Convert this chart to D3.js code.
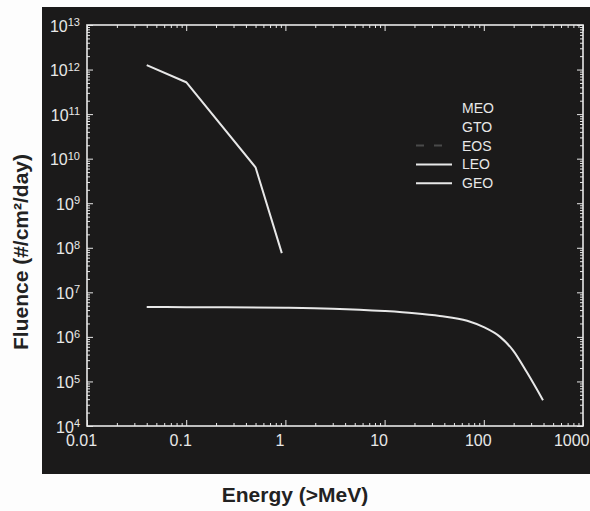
<!DOCTYPE html>
<html>
<head>
<meta charset="utf-8">
<script src="https://cdn.jsdelivr.net/npm/d3@7"></script>
<style>
  body { margin: 0; background: #fdfdfd; }
  svg { display: block; font-family: "Liberation Sans", Arial, sans-serif; }
</style>
</head>
<body>
<div class="plots"></div>
<script>
// energies (MeV) and fluence (#/cm2/day)
var leoEnergy  = [0.04, 0.1, 1, 3, 10, 20, 36, 68, 100, 146, 197, 272, 395];
var leoFluence = [4.7e6, 4.65e6, 4.5e6, 4.3e6, 3.8e6, 3.4e6, 2.95e6, 2.3e6, 1.65e6, 1.0e6, 5.0e5, 1.6e5, 3.8e4];
var geoEnergy  = [0.04, 0.1, 0.5, 0.92];
var geoFluence = [1.26e12, 5.2e11, 6.4e9, 7.6e7];

var legendNames = ["MEO", "GTO", "EOS", "LEO", "GEO"];
var xTicks = [0.01, 0.1, 1, 10, 100, 1000];
var xTickLabels = ["0.01", "0.1", "1", "10", "100", "1000"];
var yExponents = [4, 5, 6, 7, 8, 9, 10, 11, 12, 13];

var width = 590, height = 511;
var margin = {top: 25, right: 7, bottom: 85, left: 87};
var fg = "#e8e8e8";

var svg = d3.select(".plots").append("svg")
    .attr("width", width)
    .attr("height", height);

// black figure background
svg.append("rect")
    .attr("x", 42).attr("y", 7)
    .attr("width", width - 42).attr("height", 467)
    .attr("fill", "#1b1a1a");

var x = d3.scaleLog()
    .domain([0.01, 1000])
    .range([margin.left, width - margin.right]);

var y = d3.scaleLog()
    .domain([1e4, 1e13])
    .range([height - margin.bottom, margin.top]);

var xMinor = [], yMinor = [];
for (var e = -2; e < 3; e++)
  for (var m = 2; m < 10; m++) xMinor.push(m * Math.pow(10, e));
for (var e = 4; e < 13; e++)
  for (var m = 2; m < 10; m++) yMinor.push(m * Math.pow(10, e));
var yMajor = yExponents.map(function(p) { return Math.pow(10, p); });

function styleAxis(g) {
  g.select(".domain").remove();
  g.selectAll("line").attr("stroke", fg).attr("stroke-width", 1);
  g.selectAll("text").attr("fill", fg).attr("font-size", 16);
}

var bottom = height - margin.bottom, right = width - margin.right;

// minor ticks on all four sides
svg.append("g").attr("transform", "translate(0," + bottom + ")")
   .call(d3.axisBottom(x).tickValues(xMinor).tickSize(-3).tickFormat("")).call(styleAxis);
svg.append("g").attr("transform", "translate(0," + margin.top + ")")
   .call(d3.axisTop(x).tickValues(xMinor).tickSize(-3).tickFormat("")).call(styleAxis);
svg.append("g").attr("transform", "translate(" + margin.left + ",0)")
   .call(d3.axisLeft(y).tickValues(yMinor).tickSize(-3).tickFormat("")).call(styleAxis);
svg.append("g").attr("transform", "translate(" + right + ",0)")
   .call(d3.axisRight(y).tickValues(yMinor).tickSize(-3).tickFormat("")).call(styleAxis);

// major ticks
var xAxis = svg.append("g").attr("transform", "translate(0," + bottom + ")")
   .call(d3.axisBottom(x).tickValues(xTicks).tickSize(-6).tickPadding(9)
         .tickFormat(function(d, i) { return xTickLabels[i]; }))
   .call(styleAxis);
xAxis.selectAll("text").attr("dx", -6);
xAxis.selectAll("text").filter(function(d) { return d === 1000; })
   .attr("text-anchor", "end").attr("dx", 6);

svg.append("g").attr("transform", "translate(0," + margin.top + ")")
   .call(d3.axisTop(x).tickValues(xTicks).tickSize(-6).tickFormat("")).call(styleAxis);
svg.append("g").attr("transform", "translate(" + right + ",0)")
   .call(d3.axisRight(y).tickValues(yMajor).tickSize(-6).tickFormat("")).call(styleAxis);

var yAxis = svg.append("g").attr("transform", "translate(" + margin.left + ",0)")
   .call(d3.axisLeft(y).tickValues(yMajor).tickSize(-6).tickPadding(7).tickFormat(""))
   .call(styleAxis);
yAxis.selectAll(".tick text").each(function(d) {
  var t = d3.select(this).attr("dy", "0.38em");
  t.append("tspan").text("10");
  t.append("tspan").attr("dy", "-0.5em").attr("font-size", 11)
   .text(Math.round(Math.log10(d)));
});

// frame
svg.append("rect")
    .attr("x", margin.left).attr("y", margin.top)
    .attr("width", right - margin.left).attr("height", bottom - margin.top)
    .attr("fill", "none").attr("stroke", fg).attr("stroke-width", 1.6);

var smooth = d3.line()
    .x(function(d) { return x(d[0]); })
    .y(function(d) { return y(d[1]); })
    .curve(d3.curveMonotoneX);

var straight = d3.line()
    .x(function(d) { return x(d[0]); })
    .y(function(d) { return y(d[1]); });

svg.append("path")
    .datum(d3.zip(leoEnergy, leoFluence))
    .attr("fill", "none").attr("stroke", fg).attr("stroke-width", 2)
    .attr("stroke-linejoin", "round").attr("d", smooth);

svg.append("path")
    .datum(d3.zip(geoEnergy, geoFluence))
    .attr("fill", "none").attr("stroke", fg).attr("stroke-width", 2)
    .attr("stroke-linejoin", "round").attr("d", straight);

// legend
var legendStroke = ["none", "none", "#4a4a4a", fg, fg];
var legendDash = [null, null, "8,10", null, null];
var lg = svg.append("g").attr("transform", "translate(416,108)");
legendNames.forEach(function(name, i) {
  var row = lg.append("g").attr("transform", "translate(0," + (i * 18.8) + ")");
  if (legendStroke[i] !== "none")
    row.append("line").attr("x1", 0).attr("x2", 36)
       .attr("stroke", legendStroke[i]).attr("stroke-width", 2)
       .attr("stroke-dasharray", legendDash[i]);
  row.append("text").attr("x", 46).attr("dy", "0.36em")
     .attr("fill", fg).attr("font-size", 14).text(name);
});

// axis titles
svg.append("text")
    .attr("x", 295).attr("y", 502)
    .attr("text-anchor", "middle")
    .attr("font-size", 21).attr("font-weight", "bold").attr("fill", "#222")
    .text("Energy (>MeV)");

svg.append("text")
    .attr("transform", "translate(28,252) rotate(-90)")
    .attr("text-anchor", "middle")
    .attr("font-size", 21).attr("font-weight", "bold").attr("fill", "#222")
    .text("Fluence (#/cm²/day)");
</script>
</body>
</html>
